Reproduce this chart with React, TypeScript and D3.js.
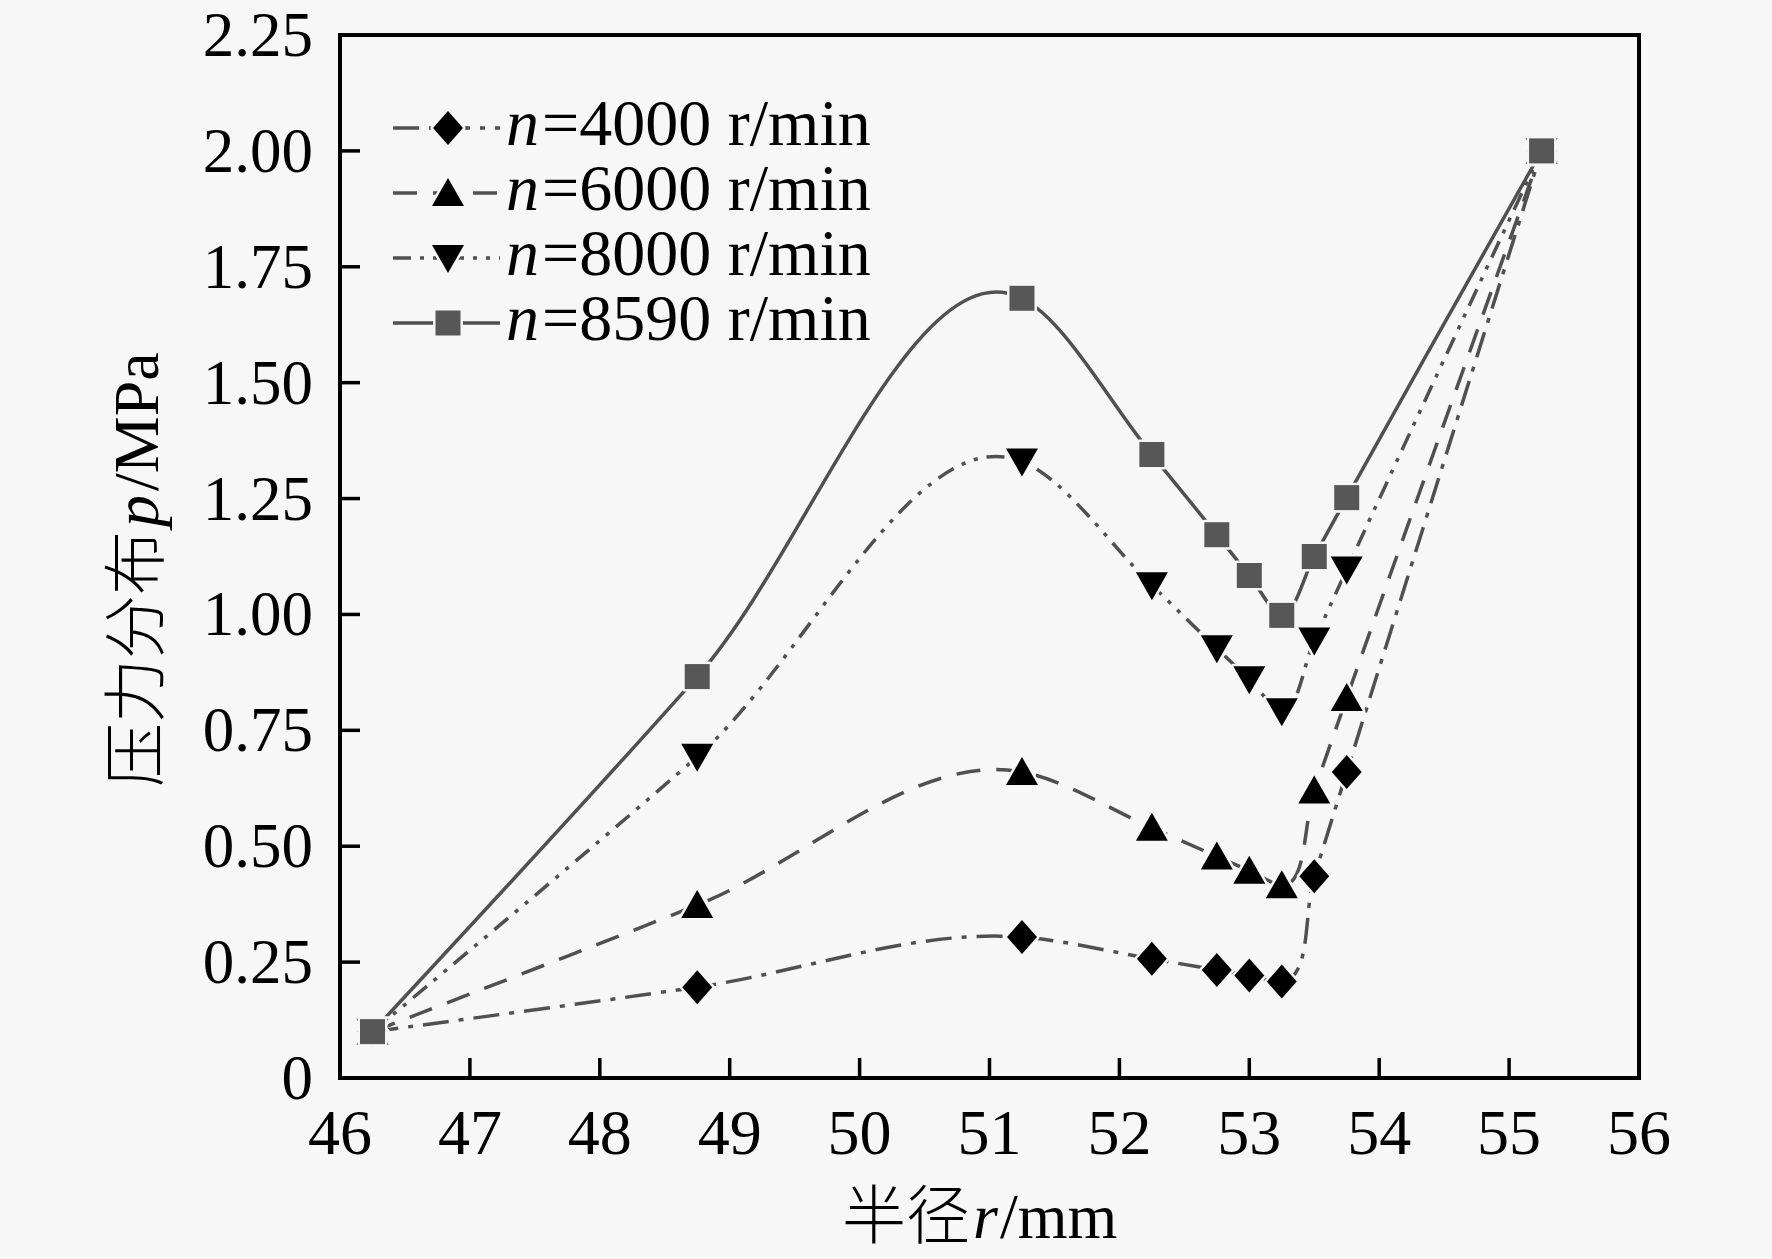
import React from "react";
import * as d3 from "d3";

const radius = [46.25, 48.75, 51.25, 52.25, 52.75, 53.0, 53.25, 53.5, 53.75, 55.25];
const p4000 = [0.1, 0.196, 0.304, 0.257, 0.233, 0.221, 0.208, 0.435, 0.66, 2.0];
const p6000 = [0.1, 0.373, 0.66, 0.54, 0.478, 0.447, 0.416, 0.62, 0.82, 2.0];
const p8000 = [0.1, 0.693, 1.33, 1.063, 0.927, 0.86, 0.791, 0.944, 1.097, 2.0];
const p8590 = [0.1, 0.866, 1.682, 1.345, 1.172, 1.084, 0.998, 1.125, 1.252, 2.0];
const speeds = ["4000", "6000", "8000", "8590"];
const xTicks = [46, 47, 48, 49, 50, 51, 52, 53, 54, 55, 56];
const yTicks = [0, 0.25, 0.5, 0.75, 1.0, 1.25, 1.5, 1.75, 2.0, 2.25];
const yTickLabels = ["0", "0.25", "0.50", "0.75", "1.00", "1.25", "1.50", "1.75", "2.00", "2.25"];

const W = 1772;
const H = 1259;
const L = 340, R = 1639, T = 35, B = 1078;
const BG = "#f7f7f7";
const LINE = "#505050";
const FONT = "'Liberation Serif', 'Times New Roman', serif";
const CJKF = "'Noto Sans CJK SC', sans-serif";

const x = d3.scaleLinear().domain([46, 56]).range([L, R]);
const y = d3.scaleLinear().domain([0, 2.25]).range([B, T]);

const dashes = ["26 10 5 10", "24 16", "18 9 4 9 4 9", ""];
const markerPaths = [
  "M0,-17 L15,0 L0,17 L-15,0 Z",
  "M0,-15 L16,13 L-16,13 Z",
  "M0,15 L16,-13 L-16,-13 Z",
  "M-12.5,-12.5 L12.5,-12.5 L12.5,12.5 L-12.5,12.5 Z",
];
const markerFill = ["#000", "#000", "#000", "#575757"];

const seriesValues = [p4000, p6000, p8000, p8590];

export default function App() {
  const line = d3
    .line<[number, number]>()
    .x((d) => x(d[0]))
    .y((d) => y(d[1]))
    .curve(d3.curveCatmullRom.alpha(1));

  const legendRows = [128, 193, 258, 323];

  return (
    <svg
      width={W}
      height={H}
      style={{ position: "absolute", left: 0, top: 0, background: BG }}
      xmlns="http://www.w3.org/2000/svg"
    >
      <rect x={0} y={0} width={W} height={H} fill={BG} />
      {/* series lines */}
      {seriesValues.map((vals, i) => (
        <path
          key={"l" + i}
          d={line(radius.map((r, j) => [r, vals[j]] as [number, number])) || ""}
          fill="none"
          stroke={LINE}
          strokeWidth={3.5}
          strokeDasharray={dashes[i] || undefined}
        />
      ))}
      {/* markers */}
      {seriesValues.map((vals, i) =>
        radius.map((r, j) => (
          <path
            key={"m" + i + "-" + j}
            d={markerPaths[i]}
            transform={`translate(${x(r)},${y(vals[j])})`}
            fill={markerFill[i]}
            stroke={BG}
            strokeWidth={5}
            strokeLinejoin="round"
            style={{ paintOrder: "stroke" }}
          />
        ))
      )}
      {/* frame */}
      <rect x={L} y={T} width={R - L} height={B - T} fill="none" stroke="#000" strokeWidth={4} />
      {/* x ticks */}
      {xTicks.map((t) => (
        <g key={"xt" + t}>
          {t > 46 && t < 56 && (
            <line x1={x(t)} x2={x(t)} y1={B} y2={B - 20} stroke="#000" strokeWidth={3.5} />
          )}
          <text x={x(t)} y={1154} textAnchor="middle" fontFamily={FONT} fontSize={64} fill="#000">
            {t}
          </text>
        </g>
      ))}
      {/* y ticks */}
      {yTicks.map((t, i) => (
        <g key={"yt" + t}>
          {t > 0 && t < 2.25 && (
            <line x1={L} x2={L + 20} y1={y(t)} y2={y(t)} stroke="#000" strokeWidth={3.5} />
          )}
          <text x={313} y={y(t) + 21} textAnchor="end" fontFamily={FONT} fontSize={63} fill="#000">
            {yTickLabels[i]}
          </text>
        </g>
      ))}
      {/* x axis title */}
      <g fill="#000" fontSize={64}>
        <text x={842} y={1238} fontFamily={CJKF} fontWeight={300}>半径</text>
        <text x={973} y={1238} fontFamily={FONT} fontStyle="italic">r</text>
        <text x={1000} y={1238} fontFamily={FONT}>/mm</text>
      </g>
      {/* y axis title */}
      <g transform="translate(158,565) rotate(-90)" fill="#000" fontSize={64}>
        <text x={-222} y={0} fontFamily={CJKF} fontWeight={300}>压力分布</text>
        <text x={38} y={0} fontFamily={FONT} fontStyle="italic">p</text>
        <text x={74} y={0} fontFamily={FONT}>/MPa</text>
      </g>
      {/* legend */}
      {speeds.map((s, i) => (
        <g key={"lg" + i}>
          <line
            x1={393}
            x2={500}
            y1={legendRows[i]}
            y2={legendRows[i]}
            stroke={LINE}
            strokeWidth={3.5}
            strokeDasharray={dashes[i] || undefined}
          />
          <path
            d={markerPaths[i]}
            transform={`translate(448,${legendRows[i]})`}
            fill={markerFill[i]}
            stroke={BG}
            strokeWidth={5}
            strokeLinejoin="round"
            style={{ paintOrder: "stroke" }}
          />
          <text x={506} y={legendRows[i] + 17} fontFamily={FONT} fontSize={66} fontStyle="italic" fill="#000">
            n
          </text>
          <text x={542} y={legendRows[i] + 17} fontFamily={FONT} fontSize={66} fill="#000">
            ={s} r/min
          </text>
        </g>
      ))}
    </svg>
  );
}
